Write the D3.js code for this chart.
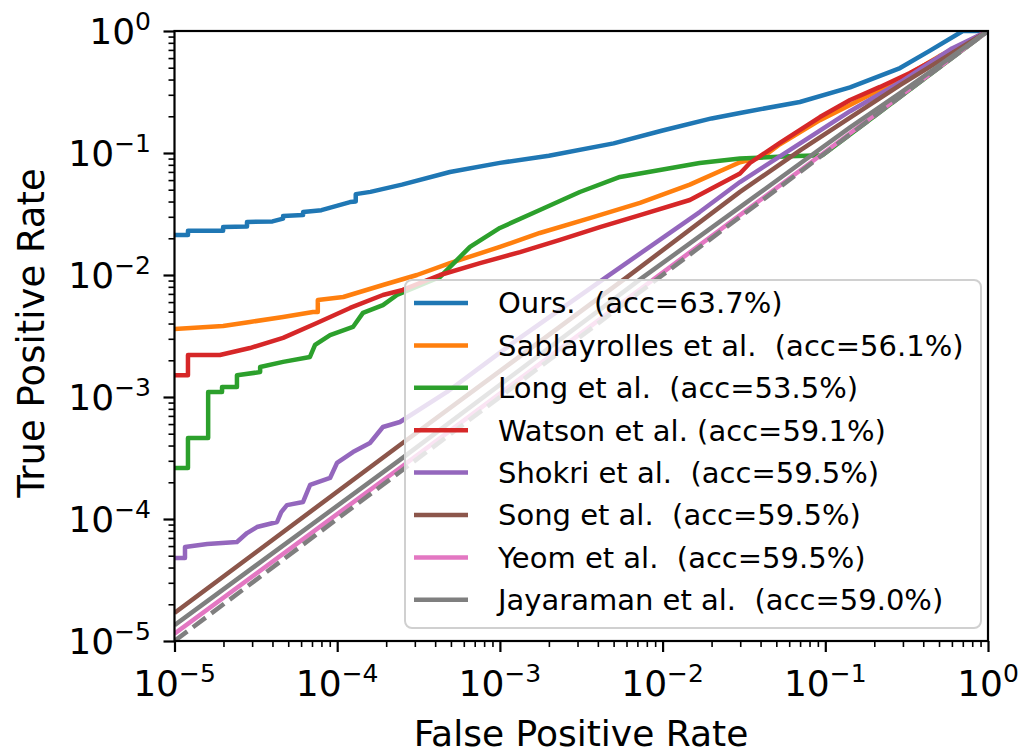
<!DOCTYPE html>
<html>
<head>
<meta charset="utf-8">
<script src="https://cdn.jsdelivr.net/npm/d3@7"></script>
<style>
  body { margin: 0; background: #fff; }
  svg { display: block; font-family: "DejaVu Sans", sans-serif; }
  .leg text { white-space: pre; }
</style>
</head>
<body>
<svg width="1019" height="753"></svg>
<script>
// legend labels
const names = ["Ours.  (acc=63.7%)", "Sablayrolles et al.  (acc=56.1%)", "Long et al.  (acc=53.5%)",
  "Watson et al. (acc=59.1%)", "Shokri et al.  (acc=59.5%)", "Song et al.  (acc=59.5%)",
  "Yeom et al.  (acc=59.5%)", "Jayaraman et al.  (acc=59.0%)"];
const colors = ["#1f77b4", "#ff7f0e", "#2ca02c", "#d62728", "#9467bd", "#8c564b", "#e377c2", "#7f7f7f"];
const tickExps = [-5, -4, -3, -2, -1, 0];

// [fpr, tpr] pairs
const ours = [[1e-5,0.0213],[1.21e-5,0.0213],[1.21e-5,0.0230],[1.99e-5,0.0230],[1.99e-5,0.0247],[2.79e-5,0.0250],
  [2.79e-5,0.0272],[4.0e-5,0.0275],[4.65e-5,0.0290],[4.65e-5,0.0305],[6.17e-5,0.0310],[6.17e-5,0.0328],[8e-5,0.034],
  [1.2e-4,0.0396],[1.3e-4,0.040],[1.3e-4,0.046],[1.6e-4,0.048],[2.5e-4,0.055],[4.93e-4,0.0699],[1e-3,0.083],
  [2e-3,0.095],[5e-3,0.120],[1e-2,0.153],[0.02,0.192],[0.0299,0.213],[0.0698,0.262],[0.142,0.345],
  [0.288,0.497],[0.44,0.69],[0.70,1.0],[1,1]];
const sablayrolles = [[1e-5,0.00361],[1.99e-5,0.00382],[2.91e-5,0.00412],[4.65e-5,0.00453],[7.1e-5,0.00498],
  [7.6e-5,0.00498],[7.6e-5,0.00624],[1.09e-4,0.0066],[1.91e-4,0.00828],[3.09e-4,0.010],[4.93e-4,0.0125],
  [1e-3,0.017],[1.76e-3,0.0221],[3.57e-3,0.0293],[7.26e-3,0.039],[0.0147,0.055],[0.0299,0.084],[0.0414,0.093],
  [0.0526,0.118],[0.0927,0.186],[0.142,0.247],[0.288,0.40],[0.5,0.62],[1,1]];
const long = [[1e-5,2.62e-4],[1.21e-5,2.62e-4],[1.21e-5,4.61e-4],[1.61e-5,4.61e-4],[1.61e-5,1.1e-3],[1.96e-5,1.1e-3],
  [1.96e-5,1.21e-3],[2.42e-5,1.21e-3],[2.42e-5,1.51e-3],[3.36e-5,1.6e-3],[3.36e-5,1.76e-3],[4.65e-5,1.94e-3],
  [6.8e-5,2.13e-3],[7.31e-5,2.67e-3],[9.04e-5,3.22e-3],[1.25e-4,3.75e-3],[1.44e-4,4.89e-3],[1.91e-4,5.67e-3],
  [2.33e-4,6.86e-3],[4.29e-4,9.64e-3],[6.55e-4,0.017],[1e-3,0.0243],[1.76e-3,0.0341],[3.1e-3,0.0479],
  [5.47e-3,0.0636],[9.63e-3,0.0726],[0.0169,0.0828],[0.0299,0.090],[0.06,0.094],[0.096,0.096],[1,1]];
const watson = [[1e-5,0.00151],[1.21e-5,0.00151],[1.21e-5,0.00221],[1.9e-5,0.00221],[2.91e-5,0.00252],
  [4.65e-5,0.00305],[7.5e-5,0.00404],[1.2e-4,0.00537],[1.91e-4,0.00686],[2.53e-4,0.00754],[4.29e-4,0.010],
  [7.55e-4,0.0125],[1.33e-3,0.0154],[2.34e-3,0.0194],[4.12e-3,0.0247],[7.26e-3,0.031],[0.0147,0.0412],
  [0.0299,0.068],[0.0344,0.0828],[0.0526,0.121],[0.0927,0.197],[0.142,0.272],[0.217,0.348],[0.331,0.453],[1,1]];
const shokri = [[1e-5,4.79e-5],[1.16e-5,4.79e-5],[1.16e-5,5.89e-5],[1.59e-5,6.24e-5],[2.42e-5,6.48e-5],
  [2.79e-5,7.67e-5],[3.21e-5,8.59e-5],[4.27e-5,9.45e-5],[4.53e-5,1.14e-4],[4.91e-5,1.3e-4],[6.17e-5,1.38e-4],
  [6.81e-5,1.9e-4],[9.04e-5,2.17e-4],[9.97e-5,2.88e-4],[1.25e-4,3.54e-4],[1.59e-4,4.2e-4],[1.91e-4,5.68e-4],
  [2.43e-4,6.24e-4],[4.73e-4,1.1e-3],[1.3e-3,3.0e-3],[4.55e-3,0.0097],[0.0169,0.0328],[0.0299,0.0578],
  [0.07,0.12],[0.142,0.22],[0.288,0.38],[0.6,0.72],[1,1]];
const song = [[1e-5,1.7e-5],[2.43e-4,4.04e-4],[6.04e-3,0.0096],[0.0299,0.048],[0.07,0.105],[0.142,0.195],[0.288,0.36],[1,1]];
const yeom = [[1e-5,1.15e-5],[2.43e-4,2.62e-4],[0.0299,0.031],[1,1]];
const jayaraman = [[1e-5,1.35e-5],[2.43e-4,3.05e-4],[7.59e-3,0.0096],[0.0299,0.036],[0.07,0.082],[0.142,0.162],[0.288,0.31],[1,1]];
const chance = [[1e-5,1e-5],[1,1]];

const series = [ours, sablayrolles, long, watson, shokri, song, yeom, jayaraman];

const svg = d3.select('svg');
const box = { left: 174.5, right: 988, top: 31, bottom: 641 };

const x = d3.scaleLog().domain([1e-5, 1]).range([box.left, box.right]);
const y = d3.scaleLog().domain([1e-5, 1]).range([box.bottom, box.top]);

const minor = [];
tickExps.slice(0, -1).forEach(e => { for (let m = 2; m <= 9; m++) minor.push(m * Math.pow(10, e)); });
const major = tickExps.map(e => Math.pow(10, e));

svg.append('clipPath').attr('id', 'clip')
  .append('rect').attr('x', box.left).attr('y', box.top)
  .attr('width', box.right - box.left).attr('height', box.bottom - box.top);

// ticks
function styleAxis(g) {
  g.select('.domain').remove();
  g.selectAll('line').attr('stroke', '#000');
  g.selectAll('text').remove();
}
svg.append('g').attr('transform', `translate(0,${box.bottom})`)
  .call(d3.axisBottom(x).tickValues(minor).tickSize(6)).call(styleAxis)
  .selectAll('line').attr('stroke-width', 1.6);
svg.append('g').attr('transform', `translate(0,${box.bottom})`)
  .call(d3.axisBottom(x).tickValues(major).tickSize(11)).call(styleAxis)
  .selectAll('line').attr('stroke-width', 2.2);
svg.append('g').attr('transform', `translate(${box.left},0)`)
  .call(d3.axisLeft(y).tickValues(minor).tickSize(6)).call(styleAxis)
  .selectAll('line').attr('stroke-width', 1.6);
svg.append('g').attr('transform', `translate(${box.left},0)`)
  .call(d3.axisLeft(y).tickValues(major).tickSize(11)).call(styleAxis)
  .selectAll('line').attr('stroke-width', 2.2);

// tick labels as 10^e
function sup(sel) {
  sel.append('tspan').text('10');
  sel.append('tspan').attr('font-size', 25).attr('dy', -14)
    .text(e => e < 0 ? '\u2212' + (-e) : e);
}
svg.append('g').selectAll('text').data(tickExps).join('text')
  .attr('x', e => x(Math.pow(10, e))).attr('y', 696)
  .attr('text-anchor', 'middle').attr('font-size', 36).call(sup);
svg.append('g').selectAll('text').data(tickExps).join('text')
  .attr('x', 151).attr('y', e => y(Math.pow(10, e)) + 13)
  .attr('text-anchor', 'end').attr('font-size', 36).call(sup);

// axis titles
svg.append('text').attr('x', 581).attr('y', 746)
  .attr('text-anchor', 'middle').attr('font-size', 36).text('False Positive Rate');
svg.append('text').attr('transform', `translate(44,333) rotate(-90)`)
  .attr('text-anchor', 'middle').attr('font-size', 37).text('True Positive Rate');

// curves
const line = d3.line().x(d => x(d[0])).y(d => y(d[1]));
const plot = svg.append('g').attr('clip-path', 'url(#clip)');
plot.selectAll('path.roc').data(series).join('path')
  .attr('class', 'roc')
  .attr('d', line)
  .attr('fill', 'none')
  .attr('stroke', (d, i) => colors[i])
  .attr('stroke-width', 4.5)
  .attr('stroke-linejoin', 'round');
plot.append('path').attr('d', line(chance))
  .attr('fill', 'none').attr('stroke', '#7f7f7f')
  .attr('stroke-width', 4.5).attr('stroke-dasharray', '16,7');

// frame
svg.append('rect').attr('x', box.left).attr('y', box.top)
  .attr('width', box.right - box.left).attr('height', box.bottom - box.top)
  .attr('fill', 'none').attr('stroke', '#000').attr('stroke-width', 2.2);

// legend
const leg = svg.append('g').attr('class', 'leg');
leg.append('rect').attr('x', 405).attr('y', 280).attr('width', 576).attr('height', 348).attr('rx', 7)
  .attr('fill', '#fff').attr('fill-opacity', 0.8).attr('stroke', '#d0d0d0').attr('stroke-width', 2);
const rows = leg.selectAll('g.row').data(names).join('g').attr('class', 'row')
  .attr('transform', (d, i) => `translate(0,${303 + i * 42.4})`);
rows.append('line').attr('x1', 414).attr('x2', 468)
  .attr('stroke', (d, i) => colors[i]).attr('stroke-width', 4.5);
rows.append('text').attr('x', 498).attr('dy', '0.36em').attr('font-size', 29).text(d => d);
</script>
</body>
</html>
